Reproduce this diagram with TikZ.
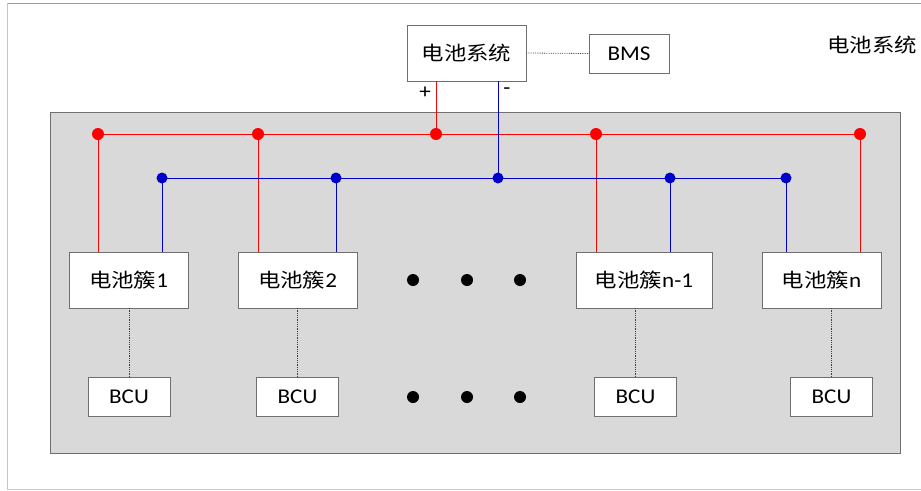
\documentclass[tikz,border=0pt]{standalone}
\usepackage{fontspec}
\setmainfont{Carlito}[FakeStretch=1.1]
\newfontfamily\cjk{Noto Sans CJK SC}[FakeStretch=1.15]
\definecolor{boxgray}{HTML}{D9D9D9}
\definecolor{edgegray}{HTML}{6F6F6F}
\definecolor{pred}{HTML}{FF0000}
\definecolor{pblue}{HTML}{0000CC}
\begin{document}
\begin{tikzpicture}[x=1pt,y=-1pt,
  every node/.style={inner sep=0pt,outer sep=0pt},
  txt/.style={font=\fontsize{21}{24}\selectfont},
  wbox/.style={draw=edgegray,fill=white,line width=0.9pt,txt},
  cluster/.style={wbox,minimum width=119pt,minimum height=56pt},
  bcubox/.style={wbox,minimum width=82pt,minimum height=39pt},
  redline/.style={color=pred,line width=1pt},
  blueline/.style={color=pblue,line width=1pt},
  sigline/.style={color=black!75,densely dotted,line width=0.8pt},
  bigdot/.style={fill=black}
]
\useasboundingbox (0,0) rectangle (921,490);
% outer frame
\draw[gray!80,line width=1pt] (7,3) -- (925,3);
\draw[gray!45,line width=1pt] (7,3) -- (7,489) -- (925,489);
% grey container
\draw[draw=edgegray,fill=boxgray,line width=1pt] (50,112) rectangle (900,453);

% bus coordinates
\coordinate (r1) at (98,134);
\coordinate (r2) at (258,134);
\coordinate (r3) at (436,134);
\coordinate (r4) at (596,134);
\coordinate (r5) at (860,134);
\coordinate (u1) at (162,178);
\coordinate (u2) at (336,178);
\coordinate (u3) at (498,178);
\coordinate (u4) at (670,178);
\coordinate (u5) at (786,178);

% top nodes
\node[wbox,minimum width=119pt,minimum height=56pt] (sys) at (466.5,53) {\cjk\fontsize{19.5}{22}\selectfont 电池系统};
\node[wbox,minimum width=80pt,minimum height=39pt] (bms) at (629,53.5) {BMS};
\node[txt] (plus) at (425,93) {+};
\node[txt] (minus) at (507,91) {-};
\node[txt] (title) at (872,45) {\cjk\fontsize{19.5}{22}\selectfont 电池系统};

% clusters
\node[cluster] (c1) at (128.5,280) {{\cjk\fontsize{19.5}{22}\selectfont 电池簇}1};
\node[cluster] (c2) at (297.5,280) {{\cjk\fontsize{19.5}{22}\selectfont 电池簇}2};
\node[cluster,minimum width=136pt] (c3) at (644,280) {{\cjk\fontsize{19.5}{22}\selectfont 电池簇}n-1};
\node[cluster] (c4) at (821.5,280) {{\cjk\fontsize{19.5}{22}\selectfont 电池簇}n};

% BCUs
\node[bcubox] (b1) at (129,396.5) {BCU};
\node[bcubox] (b2) at (297.5,396.5) {BCU};
\node[bcubox] (b3) at (635.5,396.5) {BCU};
\node[bcubox] (b4) at (831.5,396.5) {BCU};

% red (+) bus
\begin{scope}[redline]
\draw (r1) -- (r5);
\draw (r3) -- (r3 |- sys.south);
\draw (r1) -- (r1 |- c1.north);
\draw (r2) -- (r2 |- c2.north);
\draw (r4) -- (r4 |- c3.north);
\draw (r5) -- (r5 |- c4.north);
\foreach \p in {r1,r2,r3,r4,r5} \fill (\p) circle (6);
\end{scope}
% blue (-) bus
\begin{scope}[blueline]
\draw (u1) -- (u5);
\draw (u3) -- (u3 |- sys.south);
\draw (u1) -- (u1 |- c1.north);
\draw (u2) -- (u2 |- c2.north);
\draw (u4) -- (u4 |- c3.north);
\draw (u5) -- (u5 |- c4.north);
\foreach \p in {u1,u2,u3,u4,u5} \fill (\p) circle (5.5);
\end{scope}

% signal lines
\begin{scope}[sigline]
\draw (sys.east) -- (bms.west);
\draw (b1.north) -- (b1.north |- c1.south);
\draw (b2.north) -- (b2.north |- c2.south);
\draw (b3.north) -- (b3.north |- c3.south);
\draw (b4.north) -- (b4.north |- c4.south);
\end{scope}

% ellipsis dots
\foreach \x in {413,467,520} {
  \fill[bigdot] (\x,280) circle (6);
  \fill[bigdot] (\x,397) circle (6);
}
\end{tikzpicture}
\end{document}
